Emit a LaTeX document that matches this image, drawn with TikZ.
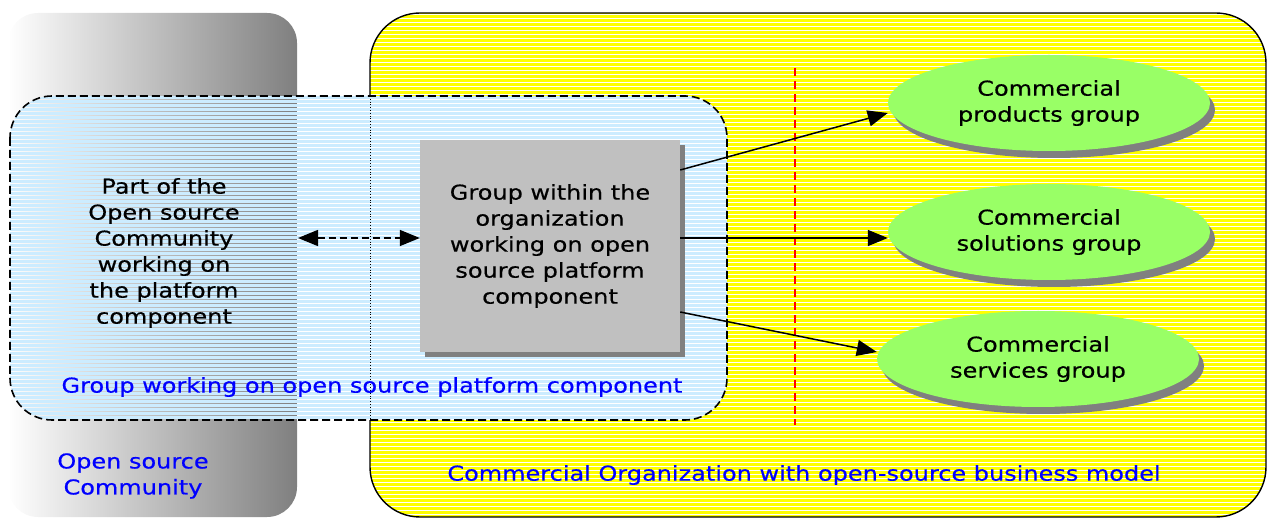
\documentclass[tikz,border=0pt]{standalone}
\usepackage{fontspec}
\setmainfont{DejaVu Sans}[FakeStretch=1.17, FakeBold=0.5]
\usetikzlibrary{arrows.meta,shapes.geometric,shadows}

\tikzset{
  lbl/.style={font=\fontsize{20.5}{26}\selectfont, align=center},
  bluelbl/.style={font=\fontsize{20.5}{26}\selectfont, text=blue, align=center},
  groupbox/.style={lbl, fill=boxgray, minimum width=260pt, minimum height=212pt, inner sep=0pt,
    drop shadow={shadow xshift=5pt, shadow yshift=-5pt, fill=black!50, opacity=1}},
  commgroup/.style={lbl, ellipse, fill=commgreen, minimum width=322pt, minimum height=96pt, inner sep=0pt,
    drop shadow={shadow xshift=5pt, shadow yshift=-7pt, fill=black!50, opacity=1}},
  arr/.style={->, line width=1.5pt},
}

\begin{document}
\begin{tikzpicture}[x=1pt, y=-1pt, >={Triangle[length=20pt,width=16pt]}]
\definecolor{lightblue}{HTML}{CCECFF}
\definecolor{boxgray}{HTML}{C0C0C0}
\definecolor{commgreen}{HTML}{99FF66}
\definecolor{orgyellow}{HTML}{FFFF00}
\useasboundingbox (0,0) rectangle (1267,518);

% open source community
\shade[left color=white, right color=black!50, rounded corners=30pt] (8,13) rectangle (297,517);

% commercial organization, striped yellow
\begin{scope}
  \clip[rounded corners=50pt] (370,13) rectangle (1266,517);
  \fill[orgyellow] (370,13) rectangle (1266,517);
  \foreach \y in {14.5,18.5,...,517}
    \draw[white, line width=1.4pt] (370,\y) -- (1266,\y);
\end{scope}
\draw[line width=1.4pt, rounded corners=50pt] (370,13) rectangle (1266,517);

% group on the platform component, striped blue
\begin{scope}
  \clip[rounded corners=42pt] (10,96) rectangle (727,420);
  \fill[white] (297,96) rectangle (727,420);
  \foreach \y in {97.5,101.5,...,421}
    \draw[lightblue, line width=2.8pt] (10,\y) -- (727,\y);
\end{scope}
\draw[line width=1.6pt, dash pattern=on 8pt off 4pt, rounded corners=42pt] (10,96) rectangle (727,420);
\draw[dotted, line width=0.8pt] (370,96) -- (370,420);

% divider
\draw[red, line width=1.3pt, dash pattern=on 8pt off 5pt] (795,68) -- (795,425);

\node[lbl] (part) at (164,253) {Part of the\\Open source\\Community\\working on\\the platform\\component};
\node[groupbox] (grp) at (550,246) {Group within the\\organization\\working on open\\source platform\\component};

\node[commgroup] (prod) at (1049,103) {Commercial\\products group};
\node[commgroup] (sol) at (1049,232) {Commercial\\solutions group};
\node[commgroup] (serv) at (1038,359) {Commercial\\services group};

\node[bluelbl, anchor=west] (grplbl) at (58,387) {Group working on open source platform component};
\node[bluelbl] (oslbl) at (133,476) {Open source\\Community};
\node[bluelbl] (orglbl) at (804,475) {Commercial Organization with open-source business model};

\coordinate (dl) at (298,238);
\draw[<->, line width=1.5pt, dash pattern=on 7pt off 4pt] (dl) -- (dl -| grp.west);
\draw[arr] ([yshift=76pt]grp.east) -- ([yshift=-10pt]prod.west);
\draw[arr] ([yshift=8pt]grp.east) -- ([yshift=8pt]grp.east -| sol.west);
\draw[arr] ([yshift=-66pt]grp.east) -- ([yshift=7pt]serv.west);
\end{tikzpicture}
\end{document}
